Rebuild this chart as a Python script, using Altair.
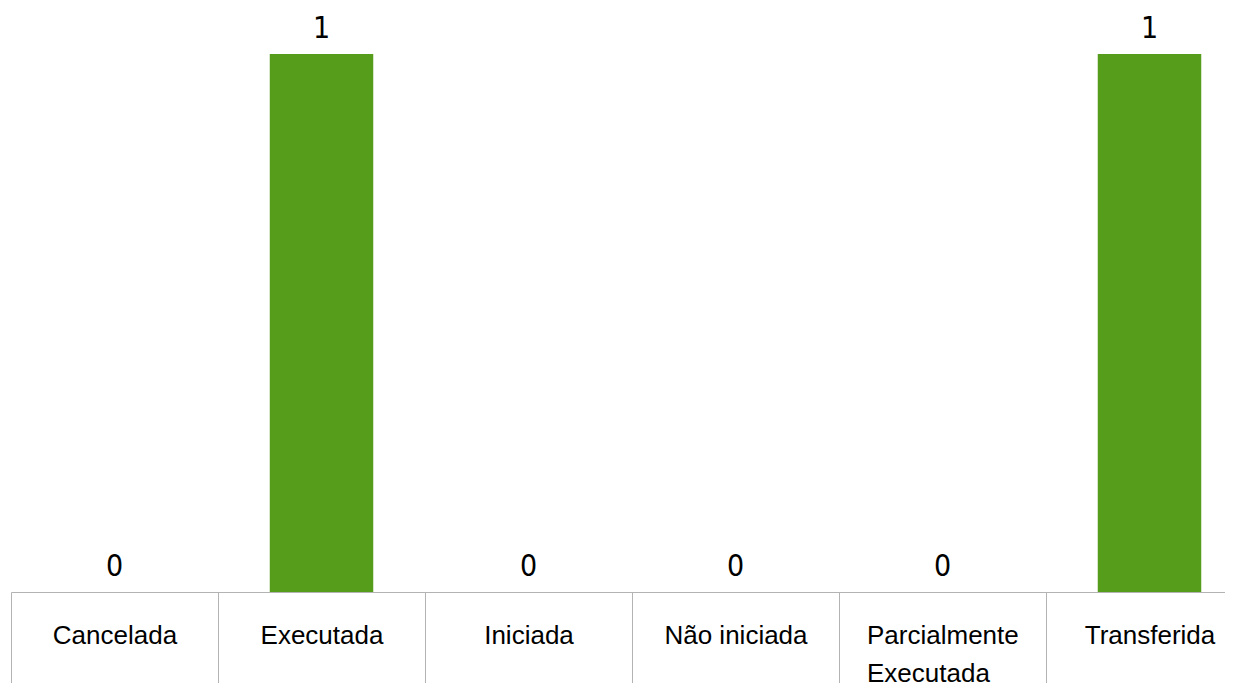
import altair as alt
import pandas as pd

categories = ["Cancelada", "Executada", "Iniciada", "Não iniciada", "Parcialmente Executada", "Transferida"]
values = [0, 1, 0, 0, 0, 1]

df = pd.DataFrame({"status": categories, "count": values})

wrap_test = "datum.value == 'Parcialmente Executada'"

x_enc = alt.X(
    "status:N",
    sort=categories,
    title=None,
    scale=alt.Scale(paddingInner=0, paddingOuter=0),
    axis=alt.Axis(
        labelAngle=0,
        labelFont="Liberation Sans",
        labelFontSize=26,
        labelColor="#000000",
        labelLineHeight=38,
        labelLimit=300,
        labelBaseline="top",
        labelPadding=-66,
        labelAlign={"condition": {"test": wrap_test, "value": "left"}, "value": "center"},
        labelOffset={"condition": {"test": wrap_test, "value": -76}, "value": 0},
        labelExpr="datum.label == 'Parcialmente Executada' ? ['Parcialmente', 'Executada'] : datum.label",
        tickBand="extent",
        tickSize=96,
        tickColor="#b3b3b3",
        domainColor="#b3b3b3",
        labelFlush=False,
        labelOverlap=False,
    ),
)

bars = alt.Chart(df).mark_bar(color="#579d1c", width=alt.RelativeBandSize(0.5)).encode(
    x=x_enc,
    y=alt.Y("count:Q", scale=alt.Scale(domain=[0, 1], nice=False), axis=None),
)

labels = alt.Chart(df).mark_text(
    font="DejaVu Sans Condensed",
    fontSize=30,
    color="#000000",
    baseline="alphabetic",
    dy=-16,
).encode(
    x=alt.X("status:N", sort=categories),
    y=alt.Y("count:Q"),
    text=alt.Text("count:Q"),
)

chart = (
    alt.layer(bars, labels)
    .properties(
        width=1242,
        height=538,
        autosize=alt.AutoSizeParams(type="none"),
        padding={"top": 46, "left": 3, "right": -28, "bottom": 91},
    )
    .configure_view(stroke=None)
)

chart.save("out.html", embed_options={"renderer": "svg", "actions": False})
